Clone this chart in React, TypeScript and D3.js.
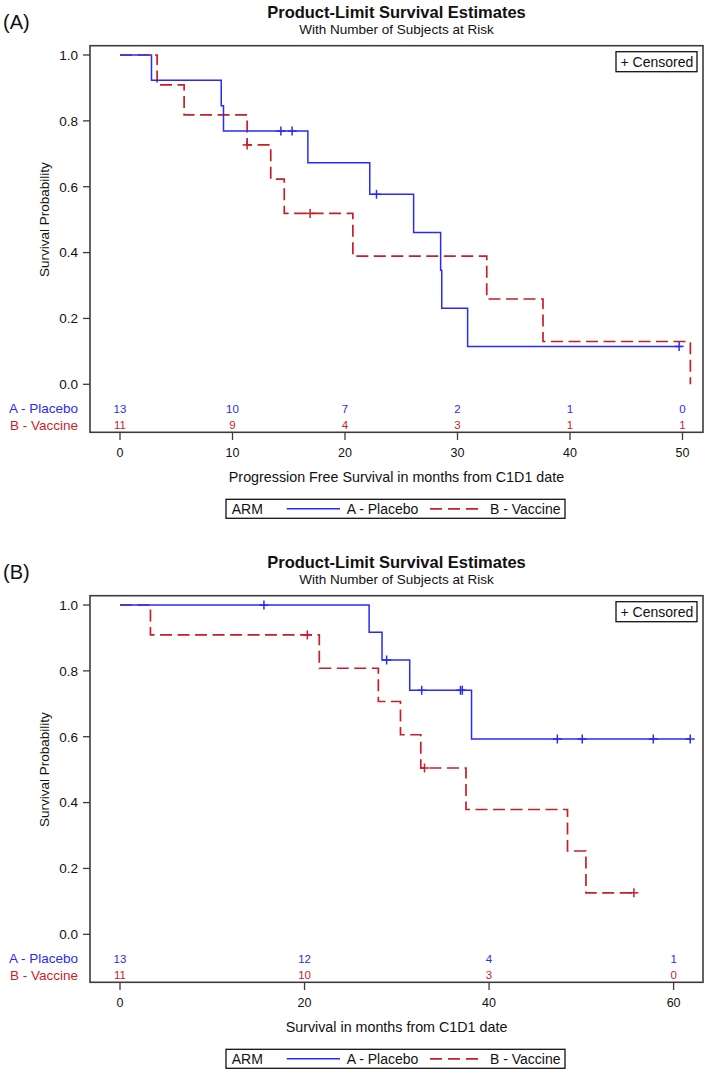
import React from "react";
import * as d3 from "d3";

const FONT = "'Liberation Sans', Arial, Helvetica, sans-serif";
const BLUE = "#2b2bf2";
const RED = "#c81e2a";
const FRAME = "#3c3c3c";

// ---------- Panel A : Progression free survival ----------
const pfsTicks = [0, 10, 20, 30, 40, 50];
const pfsPlaceboTimes = [0, 2.8, 9.0, 9.2, 16.7, 22.2, 26.1, 28.5, 28.6, 30.9];
const pfsPlaceboSurv = [1.0, 0.923, 0.846, 0.769, 0.673, 0.577, 0.461, 0.346, 0.231, 0.115];
const pfsPlaceboEnd = 49.9;
const pfsPlaceboCensor = [14.3, 15.3, 22.8, 49.7];
const pfsVaccineTimes = [0, 3.3, 5.7, 11.3, 13.4, 14.6, 20.7, 32.6, 37.6, 50.7];
const pfsVaccineSurv = [1.0, 0.909, 0.818, 0.727, 0.623, 0.519, 0.389, 0.259, 0.13, 0.0];
const pfsVaccineEnd = 50.7;
const pfsVaccineCensor = [11.3, 16.9];
const pfsRiskPlacebo = [13, 10, 7, 2, 1, 0];
const pfsRiskVaccine = [11, 9, 4, 3, 1, 1];

// ---------- Panel B : Overall survival ----------
const osTicks = [0, 20, 40, 60];
const osPlaceboTimes = [0, 27.0, 28.4, 31.4, 38.1];
const osPlaceboSurv = [1.0, 0.917, 0.833, 0.741, 0.593];
const osPlaceboEnd = 61.8;
const osPlaceboCensor = [15.6, 28.9, 32.7, 36.9, 37.1, 47.4, 50.1, 57.8, 61.8];
const osVaccineTimes = [0, 3.3, 21.6, 28.0, 30.4, 32.6, 37.5, 48.5, 50.5];
const osVaccineSurv = [1.0, 0.909, 0.808, 0.707, 0.606, 0.505, 0.379, 0.253, 0.126];
const osVaccineEnd = 55.7;
const osVaccineCensor = [20.3, 33.0, 55.7];
const osRiskPlacebo = [13, 12, 4, 1];
const osRiskVaccine = [11, 10, 3, 0];

const yTicks = [0, 0.2, 0.4, 0.6, 0.8, 1.0];

const armLabels = ["A - Placebo", "B - Vaccine"];

type Curve = {
  times: number[];
  surv: number[];
  end: number;
  censor: number[];
  color: string;
  dash?: string;
  width: number;
};

function survAt(c: Curve, t: number) {
  let v = c.surv[0];
  for (let i = 0; i < c.times.length; i++) if (c.times[i] <= t) v = c.surv[i];
  return v;
}

function Panel(props: {
  dy: number;
  tag: string;
  xLabel: string;
  xDomainMax: number;
  xRangeMax: number;
  ticks: number[];
  curves: Curve[];
  riskA: number[];
  riskB: number[];
}) {
  const { dy, tag, xLabel, ticks, curves, riskA, riskB } = props;
  const left = 90, right = 703, top = 45.7, axisY = 432.3;
  const x = d3.scaleLinear().domain([0, props.xDomainMax]).range([120, props.xRangeMax]);
  const y = d3.scaleLinear().domain([0, 1]).range([384.3, 55]);
  const line = d3
    .line<[number, number]>()
    .x((d) => x(d[0]))
    .y((d) => y(d[1]))
    .curve(d3.curveStepAfter);
  const cx = (left + right) / 2;
  return (
    <g transform={`translate(0,${dy})`} fontFamily={FONT}>
      <text x={3} y={29} fontSize={20} fill="#111">{tag}</text>
      <text x={cx} y={18.3} fontSize={16.5} fontWeight="bold" textAnchor="middle" fill="#111">
        Product-Limit Survival Estimates
      </text>
      <text x={cx} y={33.5} fontSize={13.5} textAnchor="middle" fill="#111">
        With Number of Subjects at Risk
      </text>
      {/* frame */}
      <rect x={left} y={top} width={right - left} height={axisY - top} fill="none" stroke={FRAME} strokeWidth={1.6} />
      {/* y axis ticks */}
      {yTicks.map((v) => (
        <g key={v}>
          <line x1={83} x2={left} y1={y(v)} y2={y(v)} stroke={FRAME} strokeWidth={1.3} />
          <text x={78} y={y(v) + 4.8} fontSize={13.5} textAnchor="end" fill="#111">
            {v.toFixed(1)}
          </text>
        </g>
      ))}
      <text
        transform={`translate(49,${(y(0) + y(1)) / 2}) rotate(-90)`}
        fontSize={13.5}
        textAnchor="middle"
        fill="#111"
      >
        Survival Probability
      </text>
      {/* x axis ticks */}
      {ticks.map((t) => (
        <g key={t}>
          <line x1={x(t)} x2={x(t)} y1={axisY} y2={440} stroke={FRAME} strokeWidth={1.3} />
          <text x={x(t)} y={457.2} fontSize={12.5} textAnchor="middle" fill="#111">
            {t}
          </text>
        </g>
      ))}
      <text x={cx} y={482.4} fontSize={14.3} textAnchor="middle" fill="#111">
        {xLabel}
      </text>
      {/* at risk table */}
      <text x={78} y={413.2} fontSize={13.5} textAnchor="end" fill={BLUE}>{armLabels[0]}</text>
      <text x={78} y={429.9} fontSize={13.5} textAnchor="end" fill={RED}>{armLabels[1]}</text>
      {ticks.map((t, i) => (
        <g key={"r" + t}>
          <text x={x(t)} y={412.6} fontSize={11.5} textAnchor="middle" fill={BLUE}>{riskA[i]}</text>
          <text x={x(t)} y={429.3} fontSize={11.5} textAnchor="middle" fill={RED}>{riskB[i]}</text>
        </g>
      ))}
      {/* curves */}
      {curves.map((c, ci) => {
        const pts: [number, number][] = c.times.map((t, i) => [t, c.surv[i]] as [number, number]);
        pts.push([c.end, c.surv[c.surv.length - 1]]);
        return (
          <g key={ci}>
            <path
              d={line(pts) || ""}
              fill="none"
              stroke={c.color}
              strokeWidth={c.width}
              strokeDasharray={c.dash}
            />
            {c.censor.map((t, k) => {
              const px = x(t), py = y(survAt(c, t));
              return (
                <g key={k} stroke={c.color} strokeWidth={1.5}>
                  <line x1={px} x2={px} y1={py - 4.5} y2={py + 4.5} />
                  <line x1={px - 4.5} x2={px + 4.5} y1={py} y2={py} />
                </g>
              );
            })}
          </g>
        );
      })}
      {/* censored box */}
      <rect x={616} y={51.7} width={81} height={20} fill="#fff" stroke="#111" strokeWidth={1.3} />
      <text x={620.5} y={66.6} fontSize={14} fill="#111">+ Censored</text>
      {/* legend */}
      <rect x={226} y={499.3} width={339} height={19} fill="#fff" stroke="#111" strokeWidth={1.3} />
      <text x={231.7} y={513.8} fontSize={14} fill="#111">ARM</text>
      <line x1={286.7} x2={340} y1={508.8} y2={508.8} stroke={BLUE} strokeWidth={1.5} />
      <text x={346.7} y={513.8} fontSize={14} fill="#111">{armLabels[0]}</text>
      <line x1={430} x2={478.3} y1={508.8} y2={508.8} stroke={RED} strokeWidth={1.7} strokeDasharray="12,6" />
      <text x={490} y={513.8} fontSize={14} fill="#111">{armLabels[1]}</text>
    </g>
  );
}

export default function App() {
  const curvesA: Curve[] = [
    { times: pfsVaccineTimes, surv: pfsVaccineSurv, end: pfsVaccineEnd, censor: pfsVaccineCensor, color: RED, dash: "12,5.5", width: 1.7 },
    { times: pfsPlaceboTimes, surv: pfsPlaceboSurv, end: pfsPlaceboEnd, censor: pfsPlaceboCensor, color: BLUE, width: 1.5 },
  ];
  const curvesB: Curve[] = [
    { times: osVaccineTimes, surv: osVaccineSurv, end: osVaccineEnd, censor: osVaccineCensor, color: RED, dash: "12,5.5", width: 1.7 },
    { times: osPlaceboTimes, surv: osPlaceboSurv, end: osPlaceboEnd, censor: osPlaceboCensor, color: BLUE, width: 1.5 },
  ];
  return (
    <div style={{ position: "absolute", left: 0, top: 0 }}>
      <svg width={709} height={1075} viewBox="0 0 709 1075" style={{ display: "block", background: "#fff" }}>
        <rect width={709} height={1075} fill="#fff" />
        <Panel
          dy={0}
          tag="(A)"
          xLabel="Progression Free Survival in months from C1D1 date"
          xDomainMax={50}
          xRangeMax={682.5}
          ticks={pfsTicks}
          curves={curvesA}
          riskA={pfsRiskPlacebo}
          riskB={pfsRiskVaccine}
        />
        <Panel
          dy={550}
          tag="(B)"
          xLabel="Survival in months from C1D1 date"
          xDomainMax={60}
          xRangeMax={673.6}
          ticks={osTicks}
          curves={curvesB}
          riskA={osRiskPlacebo}
          riskB={osRiskVaccine}
        />
      </svg>
    </div>
  );
}
